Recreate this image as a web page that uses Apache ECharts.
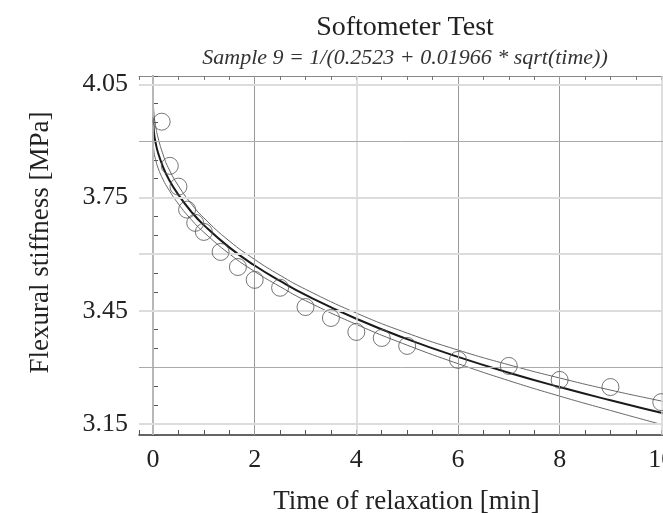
<!DOCTYPE html>
<html lang="en" style="height: 100%">
<head>
  <meta charset="utf-8">
  <script src="https://cdn.jsdelivr.net/npm/echarts@6/dist/echarts.min.js"></script>
</head>
<body style="height: 100%; margin: 0; background: #fff">
  <div id="container" style="width: 663px; height: 513px"></div>

  <script type="text/javascript">
    // measured points (time in min, stiffness in MPa)
    var sampleTime = [0.17, 0.33, 0.5, 0.67, 0.83, 1.0, 1.33, 1.67, 2.0, 2.5, 3.0, 3.5, 4.0, 4.5, 5.0, 6.0, 7.0, 8.0, 9.0, 10.0];
    var sampleValue = [3.951, 3.834, 3.779, 3.718, 3.683, 3.659, 3.606, 3.566, 3.532, 3.511, 3.460, 3.431, 3.394, 3.378, 3.357, 3.320, 3.304, 3.267, 3.248, 3.208];

    // fitted curve and its band
    var fitTime = [0, 0.02, 0.05, 0.1, 0.2, 0.3, 0.5, 0.75, 1, 1.5, 2, 2.5, 3, 4, 5, 6, 7, 8, 9, 10, 10.25];
    var fitValue = [3.964, 3.920, 3.896, 3.868, 3.830, 3.801, 3.757, 3.713, 3.677, 3.618, 3.570, 3.529, 3.492, 3.429, 3.375, 3.328, 3.286, 3.248, 3.213, 3.180, 3.172];
    var upperValue = [4.024, 3.970, 3.941, 3.908, 3.863, 3.829, 3.781, 3.734, 3.696, 3.635, 3.586, 3.544, 3.507, 3.444, 3.391, 3.346, 3.307, 3.272, 3.240, 3.211, 3.204];
    var lowerValue = [3.904, 3.870, 3.851, 3.828, 3.797, 3.773, 3.733, 3.692, 3.658, 3.601, 3.554, 3.514, 3.477, 3.414, 3.359, 3.310, 3.265, 3.224, 3.186, 3.149, 3.140];

    // tick labels and grid lines
    var xLabels = [0, 2, 4, 6, 8, 10];
    var yLabels = [3.15, 3.45, 3.75, 4.05];
    var xGridDark = [2, 6, 8];
    var xGridLight = [0, 4, 10];
    var yGridDark = [3.9, 3.3];
    var yGridLight = [3.15, 3.45, 3.6, 3.75, 4.05];

    var serif = 'Liberation Serif';
    var textColor = '#222';

    function pairs(xs, ys) {
      var out = [];
      for (var i = 0; i < xs.length; i++) out.push([xs[i], ys[i]]);
      return out;
    }

    function hasValue(list, v) {
      for (var i = 0; i < list.length; i++) {
        if (Math.abs(list[i] - v) < 1e-6) return true;
      }
      return false;
    }

    var gridLines = [];
    xGridDark.forEach(function (v) {
      gridLines.push({ xAxis: v, lineStyle: { color: '#999', width: 1, type: 'solid' } });
    });
    xGridLight.forEach(function (v) {
      gridLines.push({ xAxis: v, lineStyle: { color: '#d4d4d4', width: 1.5, type: 'solid' } });
    });
    yGridDark.forEach(function (v) {
      gridLines.push({ yAxis: v, lineStyle: { color: '#aaa', width: 1, type: 'solid' } });
    });
    yGridLight.forEach(function (v) {
      gridLines.push({ yAxis: v, lineStyle: { color: '#dcdcdc', width: 2, type: 'solid' } });
    });

    var dom = document.getElementById('container');
    var myChart = echarts.init(dom, null, { renderer: 'canvas' });

    var xCommon = {
      type: 'value',
      min: -0.276,
      max: 10.25,
      splitNumber: 21,
      minInterval: 0.5,
      maxInterval: 0.5,
      splitLine: { show: false }
    };

    var option = {
      animation: false,
      backgroundColor: '#fff',
      title: {
        text: 'Softometer Test',
        subtext: 'Sample 9 = 1/(0.2523 + 0.01966 * sqrt(time))',
        left: 400,
        top: 9,
        textAlign: 'center',
        itemGap: 5,
        textStyle: { fontFamily: serif, fontSize: 28, fontWeight: 'normal', color: textColor },
        subtextStyle: { fontFamily: serif, fontSize: 22, fontStyle: 'italic', color: '#333' }
      },
      grid: {
        left: 139,
        right: -11,
        top: 76,
        bottom: 78,
        outerBoundsMode: 'none'
      },
      xAxis: [
        Object.assign({}, xCommon, {
          position: 'bottom',
          name: 'Time of relaxation [min]',
          nameLocation: 'middle',
          nameGap: 53,
          nameTextStyle: { fontFamily: serif, fontSize: 27, color: textColor },
          axisLine: { lineStyle: { color: '#333', width: 1.5 } },
          axisTick: { inside: true, length: 5, lineStyle: { color: '#555' } },
          axisLabel: {
            margin: 12,
            fontFamily: serif,
            fontSize: 26,
            color: textColor,
            formatter: function (v) { return hasValue(xLabels, v) ? String(Math.round(v)) : ''; }
          }
        }),
        Object.assign({}, xCommon, {
          position: 'top',
          axisLine: { lineStyle: { color: '#888', width: 1 } },
          axisTick: { inside: true, length: 4, lineStyle: { color: '#777' } },
          axisLabel: { show: false }
        })
      ],
      yAxis: {
        type: 'value',
        min: 3.121,
        max: 4.072,
        splitNumber: 19,
        minInterval: 0.05,
        maxInterval: 0.05,
        name: 'Flexural stiffness [MPa]',
        nameLocation: 'middle',
        nameRotate: 90,
        nameGap: 85,
        nameTextStyle: { fontFamily: serif, fontSize: 27, color: textColor, padding: [0, 0, 0, 26] },
        axisLine: { show: true, lineStyle: { color: '#333', width: 1.5 } },
        axisTick: { show: true, inside: true, length: 5, lineStyle: { color: '#555' } },
        splitLine: { show: false },
        axisLabel: {
          margin: 11,
          fontFamily: serif,
          fontSize: 26,
          color: textColor,
          formatter: function (v) { return hasValue(yLabels, v) ? v.toFixed(2) : ''; }
        }
      },
      series: [
        {
          name: 'grid',
          type: 'line',
          data: [],
          silent: true,
          z: 1,
          markLine: {
            silent: true,
            symbol: ['none', 'none'],
            label: { show: false },
            animation: false,
            data: gridLines
          }
        },
        {
          name: 'upper',
          type: 'line',
          data: pairs(fitTime, upperValue),
          showSymbol: false,
          smooth: true,
          z: 3,
          lineStyle: { color: '#666', width: 1 }
        },
        {
          name: 'lower',
          type: 'line',
          data: pairs(fitTime, lowerValue),
          showSymbol: false,
          smooth: true,
          z: 3,
          lineStyle: { color: '#666', width: 1 }
        },
        {
          name: 'fit',
          type: 'line',
          data: pairs(fitTime, fitValue),
          showSymbol: false,
          smooth: true,
          z: 4,
          lineStyle: { color: '#1a1a1a', width: 2 }
        },
        {
          name: 'Sample 9',
          type: 'scatter',
          data: pairs(sampleTime, sampleValue),
          symbol: 'circle',
          symbolSize: 17,
          z: 5,
          itemStyle: { color: 'rgba(0,0,0,0)', borderColor: '#555', borderWidth: 1 }
        }
      ]
    };

    if (option && typeof option === 'object') {
      myChart.setOption(option);
    }

    window.addEventListener('resize', myChart.resize);
  </script>
</body>
</html>
